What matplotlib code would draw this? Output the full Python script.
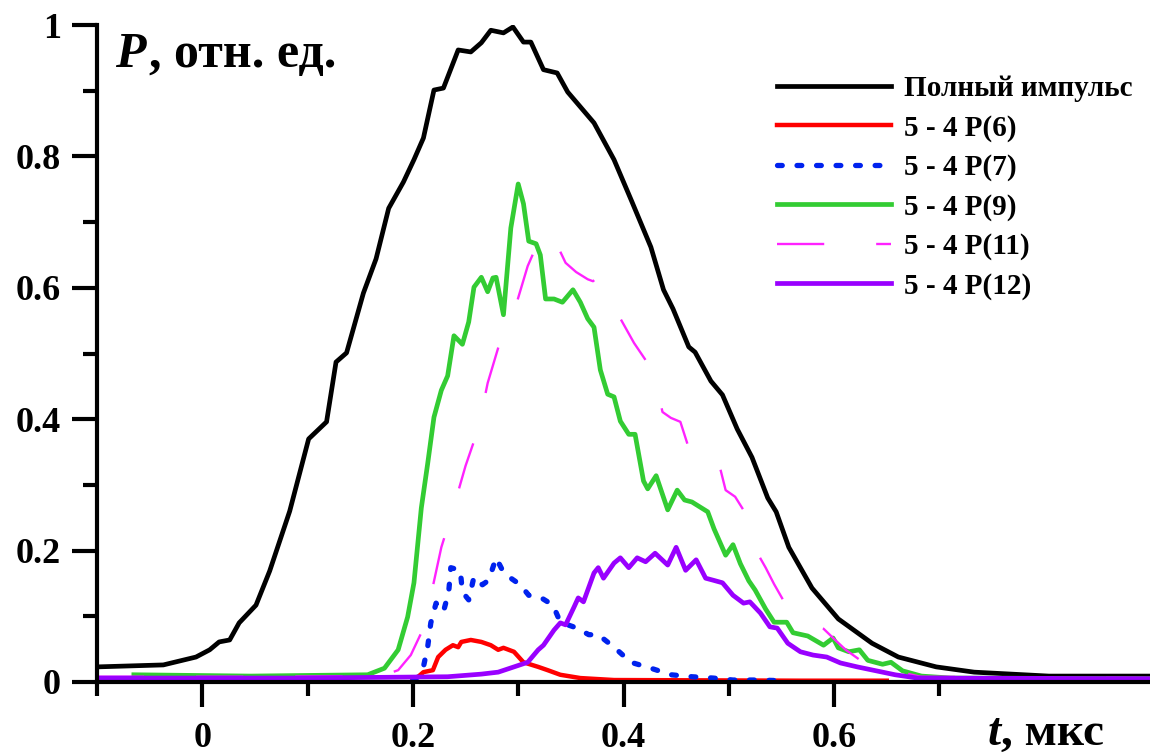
import matplotlib
matplotlib.use("Agg")
import matplotlib.pyplot as plt
from matplotlib.ticker import FixedLocator

# time axis, mks
t_full = [-0.1, -0.037, -0.006, 0.007, 0.016, 0.026, 0.035, 0.051, 0.064, 0.083,
          0.101, 0.118, 0.127, 0.137, 0.153, 0.165, 0.177, 0.191, 0.201, 0.210,
          0.220, 0.229, 0.243, 0.255, 0.265, 0.274, 0.286, 0.295, 0.305, 0.312,
          0.324, 0.337, 0.347, 0.372, 0.391, 0.408, 0.426, 0.438, 0.447, 0.462,
          0.468, 0.483, 0.494, 0.508, 0.522, 0.537, 0.545, 0.557, 0.579, 0.604,
          0.636, 0.661, 0.697, 0.733, 0.804, 0.9]
p_full = [0.023, 0.026, 0.038, 0.049, 0.061, 0.064, 0.090, 0.117, 0.169, 0.260,
          0.370, 0.396, 0.487, 0.501, 0.592, 0.644, 0.721, 0.761, 0.795, 0.828,
          0.901, 0.904, 0.962, 0.959, 0.973, 0.992, 0.988, 0.997, 0.974, 0.974,
          0.932, 0.927, 0.898, 0.851, 0.795, 0.731, 0.662, 0.597, 0.568, 0.510,
          0.502, 0.458, 0.437, 0.385, 0.342, 0.280, 0.259, 0.205, 0.143, 0.096,
          0.059, 0.038, 0.023, 0.015, 0.009, 0.009]

t_p6 = [0.200, 0.205, 0.210, 0.219, 0.224, 0.231, 0.238, 0.243, 0.246, 0.255,
        0.265, 0.274, 0.281, 0.286, 0.296, 0.305, 0.319, 0.328, 0.340, 0.359,
        0.391, 0.568, 0.650]
p_p6 = [0.003, 0.008, 0.015, 0.018, 0.038, 0.049, 0.056, 0.053, 0.061, 0.064,
        0.061, 0.056, 0.049, 0.052, 0.046, 0.030, 0.023, 0.018, 0.011, 0.006,
        0.003, 0.002, 0.002]

t_p7 = [0.200, 0.206, 0.210, 0.214, 0.217, 0.222, 0.229, 0.234, 0.236, 0.245,
        0.247, 0.253, 0.258, 0.266, 0.272, 0.279, 0.286, 0.293, 0.302, 0.310,
        0.321, 0.333, 0.340, 0.356, 0.367, 0.376, 0.391, 0.407, 0.426, 0.445,
        0.465, 0.485, 0.504, 0.527, 0.550]
p_p7 = [0.005, 0.008, 0.023, 0.053, 0.090, 0.120, 0.107, 0.137, 0.174, 0.170,
        0.137, 0.125, 0.160, 0.148, 0.155, 0.189, 0.167, 0.158, 0.148, 0.132,
        0.129, 0.117, 0.091, 0.082, 0.072, 0.072, 0.053, 0.030, 0.021, 0.011,
        0.008, 0.006, 0.003, 0.003, 0.002]

t_p9 = [-0.065, 0.046, 0.157, 0.173, 0.186, 0.195, 0.201, 0.208, 0.214, 0.220,
        0.227, 0.233, 0.239, 0.247, 0.253, 0.258, 0.265, 0.271, 0.276, 0.279,
        0.286, 0.293, 0.300, 0.305, 0.310, 0.317, 0.321, 0.326, 0.334, 0.342,
        0.352, 0.359, 0.366, 0.372, 0.378, 0.385, 0.391, 0.397, 0.405, 0.411,
        0.419, 0.423, 0.431, 0.442, 0.451, 0.458, 0.465, 0.480, 0.486, 0.497,
        0.504, 0.511, 0.519, 0.525, 0.535, 0.543, 0.555, 0.561, 0.575, 0.590,
        0.599, 0.604, 0.614, 0.624, 0.632, 0.646, 0.654, 0.665, 0.683, 0.711,
        0.9]
p_p9 = [0.011, 0.009, 0.011, 0.021, 0.049, 0.099, 0.151, 0.265, 0.332, 0.403,
        0.444, 0.466, 0.527, 0.514, 0.548, 0.601, 0.616, 0.594, 0.615, 0.616,
        0.559, 0.691, 0.758, 0.728, 0.671, 0.667, 0.650, 0.583, 0.583, 0.578,
        0.597, 0.578, 0.553, 0.540, 0.475, 0.438, 0.434, 0.397, 0.377, 0.377,
        0.306, 0.294, 0.314, 0.262, 0.292, 0.277, 0.274, 0.259, 0.233, 0.193,
        0.209, 0.180, 0.154, 0.140, 0.111, 0.091, 0.091, 0.075, 0.070, 0.056,
        0.067, 0.052, 0.046, 0.049, 0.033, 0.027, 0.030, 0.017, 0.009, 0.006,
        0.005]

t_p11 = [-0.1, 0.046, 0.170, 0.186, 0.198, 0.208, 0.217, 0.227, 0.238, 0.250,
         0.262, 0.271, 0.282, 0.298, 0.309, 0.321, 0.329, 0.337, 0.345, 0.355,
         0.366, 0.371, 0.375, 0.380, 0.388, 0.395, 0.410, 0.421, 0.429, 0.437,
         0.445, 0.454, 0.464, 0.473, 0.480, 0.487, 0.492, 0.497, 0.506, 0.515,
         0.524, 0.535, 0.543, 0.559, 0.573, 0.590, 0.601, 0.611, 0.625, 0.644,
         0.658, 0.682, 0.9]
p_p11 = [0.008, 0.008, 0.009, 0.018, 0.041, 0.075, 0.131, 0.205, 0.262, 0.329,
         0.385, 0.455, 0.514, 0.574, 0.633, 0.677, 0.685, 0.665, 0.638, 0.624,
         0.613, 0.610, 0.615, 0.594, 0.577, 0.559, 0.516, 0.490, 0.472, 0.411,
         0.402, 0.396, 0.346, 0.323, 0.317, 0.320, 0.324, 0.292, 0.282, 0.259,
         0.205, 0.174, 0.149, 0.104, 0.091, 0.081, 0.064, 0.049, 0.033, 0.026,
         0.017, 0.008, 0.006]

t_p12 = [-0.1, 0.094, 0.233, 0.265, 0.281, 0.296, 0.309, 0.319, 0.324, 0.334,
         0.340, 0.345, 0.353, 0.357, 0.362, 0.372, 0.376, 0.381, 0.391, 0.397,
         0.405, 0.413, 0.421, 0.430, 0.442, 0.450, 0.459, 0.469, 0.478, 0.485,
         0.494, 0.504, 0.514, 0.520, 0.530, 0.539, 0.546, 0.556, 0.568, 0.580,
         0.593, 0.606, 0.622, 0.637, 0.658, 0.679, 0.9]
p_p12 = [0.006, 0.006, 0.008, 0.012, 0.015, 0.023, 0.030, 0.049, 0.056, 0.079,
         0.090, 0.087, 0.114, 0.128, 0.122, 0.166, 0.174, 0.158, 0.181, 0.189,
         0.174, 0.189, 0.183, 0.196, 0.178, 0.205, 0.170, 0.186, 0.158, 0.155,
         0.151, 0.132, 0.120, 0.122, 0.105, 0.084, 0.082, 0.059, 0.046, 0.041,
         0.038, 0.029, 0.023, 0.018, 0.011, 0.006, 0.005]

labels = ["Полный импульс", "5 - 4 P(6)", "5 - 4 P(7)", "5 - 4 P(9)",
          "5 - 4 P(11)", "5 - 4 P(12)"]

x_major = [0, 0.2, 0.4, 0.6]
x_minor = [-0.1, 0.1, 0.3, 0.5, 0.7]
y_major = [0, 0.2, 0.4, 0.6, 0.8, 1.0]
y_minor = [0.1, 0.3, 0.5, 0.7, 0.9]

plt.rcParams["font.family"] = ["Liberation Serif", "DejaVu Serif"]
plt.rcParams["font.weight"] = "bold"

fig = plt.figure(figsize=(11.5, 7.55), dpi=100)
ax = fig.add_axes([97 / 1150, 73 / 755, 1053 / 1150, 657 / 755])

ax.plot(t_full, p_full, color="black", lw=3.4, label=labels[0])
ax.plot(t_p6, p_p6, color="#ff0000", lw=3.2, label=labels[1])
ax.plot(t_p7, p_p7, color="#0022ee", lw=3.8, linestyle=(0, (0.9, 2.8)),
        dash_capstyle="round", label=labels[2])
ax.plot(t_p9, p_p9, color="#33cc33", lw=3.4, label=labels[3])
ax.plot(t_p11, p_p11, color="#ff22ff", lw=1.7, linestyle=(0, (20, 22)),
        label=labels[4])
ax.plot(t_p12, p_p12, color="#9900ff", lw=3.4, label=labels[5])

ax.set_xlim(-0.1, 0.9)
ax.set_ylim(0, 1)

for side in ["top", "right"]:
    ax.spines[side].set_visible(False)
for side in ["left", "bottom"]:
    ax.spines[side].set_linewidth(3)

ax.xaxis.set_major_locator(FixedLocator(x_major))
ax.xaxis.set_minor_locator(FixedLocator(x_minor))
ax.yaxis.set_major_locator(FixedLocator(y_major))
ax.yaxis.set_minor_locator(FixedLocator(y_minor))
ax.set_xticklabels(["0", "0.2", "0.4", "0.6"])
ax.set_yticklabels(["0", "0.2", "0.4", "0.6", "0.8", "1"])

ax.tick_params(which="major", length=18, width=3, direction="out", labelsize=26)
ax.tick_params(which="minor", length=10, width=3, direction="out")
ax.tick_params(axis="x", which="major", pad=11)
ax.tick_params(axis="y", which="major", pad=8)

# axis titles
fig.text(115 / 1150, 1 - 67 / 755, "P", fontsize=36, style="italic",
         weight="bold", va="baseline")
fig.text(149 / 1150, 1 - 67 / 755, ", отн. ед.", fontsize=36,
         weight="bold", va="baseline")
fig.text(988 / 1150, 1 - 745 / 755, "t", fontsize=34, style="italic",
         weight="bold", va="baseline")
fig.text(1001 / 1150, 1 - 745 / 755, ", мкс", fontsize=34,
         weight="bold", va="baseline")

leg = ax.legend(loc="upper left", bbox_to_anchor=(777 / 1150, 1 - 75 / 755),
                bbox_transform=fig.transFigure, frameon=False,
                fontsize=21, handlelength=3.9, handletextpad=0.45,
                labelspacing=0.42, borderpad=0, borderaxespad=0)

fig.savefig("out.png", dpi=100)
